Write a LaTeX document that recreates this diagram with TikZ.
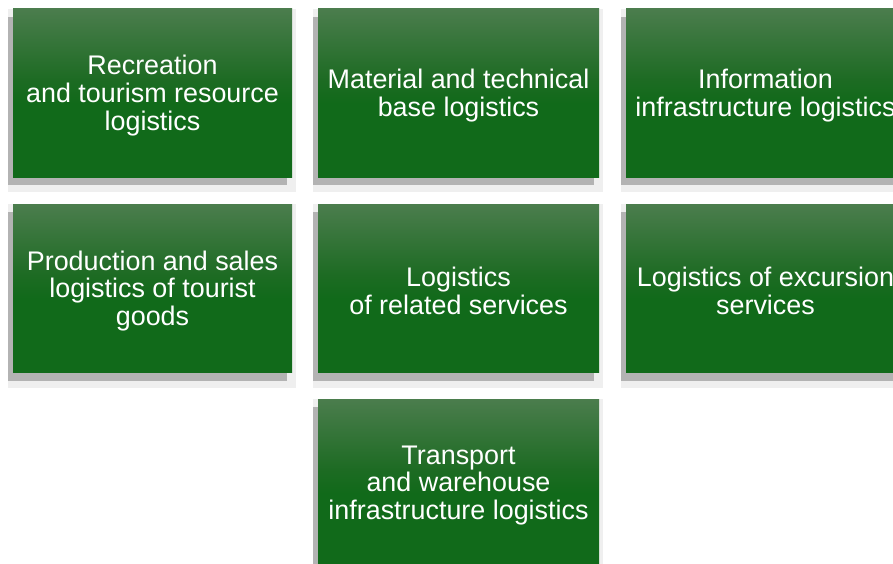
\documentclass[tikz,border=0pt]{standalone}
\usepackage{fontspec}
\setmainfont{Liberation Sans}
\usetikzlibrary{backgrounds}

\definecolor{gTop}{HTML}{4B7D4D}
\definecolor{gMid}{HTML}{1D6B23}
\definecolor{gBot}{HTML}{116A1A}
\definecolor{shadeDark}{HTML}{B3B3B3}
\definecolor{shadeHalo}{HTML}{EFEFEF}

% green box fill: grey-green at the top, solid dark green over the lower half
% (the path spans 25bp..75bp of the shading)
\pgfdeclareverticalshading{boxgrad}{100bp}{%
  color(0bp)=(gBot); color(25bp)=(gBot); color(47bp)=(gBot);
  color(54bp)=(gMid); color(75bp)=(gTop); color(100bp)=(gTop)}

\tikzset{
  logbox/.style={shading=boxgrad, minimum width=279pt, minimum height=168pt,
    inner sep=0pt},
  widebox/.style={logbox, minimum width=281pt},
  boxtext/.style={text=white, align=center, inner sep=0pt,
    font=\fontsize{26.9}{27.6}\selectfont},
}

\begin{document}
\begin{tikzpicture}[x=1pt, y=-1pt]
  \useasboundingbox (0,0) rectangle (893,564);

  % top row
  \node[logbox]  (rec)  at (152.5, 93) {};
  \node[widebox] (mat)  at (458.5, 93) {};
  \node[logbox]  (info) at (765.5, 93) {};
  % middle row
  \node[logbox]  (prod) at (152.5, 288.5) {};
  \node[widebox] (rel)  at (458.5, 288.5) {};
  \node[logbox]  (exc)  at (765.5, 288.5) {};
  % bottom row
  \node[widebox] (trans) at (458.5, 483) {};

  % captions, set a little below each box centre
  \node[boxtext] (recT)   at ([yshift=-2.5pt]rec)   {Recreation\\and tourism resource\\logistics};
  \node[boxtext] (matT)   at ([yshift=-2.5pt]mat)   {Material and technical\\base logistics};
  \node[boxtext] (infoT)  at ([yshift=-2.5pt]info)  {Information\\infrastructure logistics};
  \node[boxtext] (prodT)  at ([yshift=-2.5pt]prod)  {Production and sales\\logistics of tourist\\goods};
  \node[boxtext] (relT)   at ([yshift=-2.5pt]rel)   {Logistics\\of related services};
  \node[boxtext] (excT)   at ([yshift=-2.5pt]exc)   {Logistics of excursion\\services};
  \node[boxtext] (transT) at ([yshift=-2.5pt]trans) {Transport\\and warehouse\\infrastructure logistics};

  % soft halo and drop shadow behind every box
  \begin{scope}[on background layer]
    \foreach \b in {rec, mat, info, prod, rel, exc, trans} {
      \fill[shadeHalo] ([xshift=-5pt]\b.north west) rectangle ([xshift=4pt, yshift=-15pt]\b.south east);
      \fill[shadeDark] ([xshift=-5pt, yshift=-8pt]\b.north west) rectangle ([xshift=-5pt, yshift=-8pt]\b.south east);
    }
  \end{scope}
\end{tikzpicture}
\end{document}
